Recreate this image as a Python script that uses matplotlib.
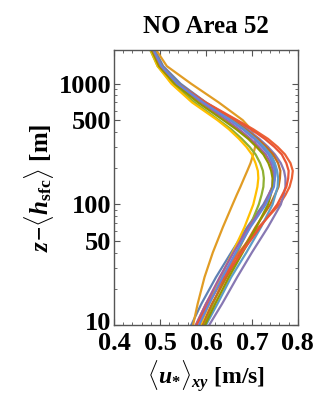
#!/usr/bin/env python3

import numpy as np
import matplotlib
matplotlib.use("Agg")
import matplotlib.pyplot as plt
import matplotlib.transforms as mtransforms
from matplotlib.ticker import FixedLocator, NullFormatter, MultipleLocator

# ==========================================================
# DATA
# ==========================================================

Z = [10, 15, 25, 40, 65, 100, 120, 140, 165, 190, 220, 260, 300, 350, 420,
     500, 700, 1000, 1400, 1900]

U_BLUE = [0.568, 0.590, 0.622, 0.655, 0.690, 0.725, 0.736, 0.745, 0.750, 0.752,
          0.749, 0.742, 0.729, 0.712, 0.688, 0.660, 0.600, 0.545, 0.507, 0.489]
U_ORANGE = [0.572, 0.582, 0.597, 0.615, 0.637, 0.658, 0.667, 0.675, 0.683, 0.690,
            0.697, 0.703, 0.707, 0.708, 0.698, 0.680, 0.628, 0.568, 0.515, 0.492]
U_GREEN = [0.595, 0.615, 0.642, 0.668, 0.695, 0.715, 0.721, 0.725, 0.726, 0.724,
           0.718, 0.708, 0.695, 0.678, 0.655, 0.628, 0.575, 0.527, 0.495, 0.479]
U_RED = [0.578, 0.600, 0.635, 0.672, 0.715, 0.760, 0.773, 0.782, 0.787, 0.789,
         0.784, 0.772, 0.756, 0.735, 0.703, 0.668, 0.600, 0.540, 0.504, 0.486]
U_PURPLE = [0.607, 0.635, 0.668, 0.700, 0.735, 0.763, 0.769, 0.773, 0.773, 0.770,
            0.763, 0.750, 0.735, 0.716, 0.690, 0.660, 0.598, 0.540, 0.503, 0.486]
U_DKORANGE = [0.592, 0.613, 0.645, 0.676, 0.708, 0.740, 0.750, 0.758, 0.761, 0.762,
              0.757, 0.746, 0.731, 0.712, 0.686, 0.657, 0.597, 0.540, 0.503, 0.486]
U_LTBLUE = [0.600, 0.625, 0.655, 0.688, 0.720, 0.745, 0.751, 0.756, 0.757, 0.755,
            0.750, 0.740, 0.726, 0.708, 0.683, 0.655, 0.596, 0.540, 0.503, 0.486]
U_YELLOW = [0.588, 0.607, 0.632, 0.658, 0.684, 0.703, 0.708, 0.712, 0.714, 0.713,
            0.708, 0.700, 0.688, 0.672, 0.650, 0.625, 0.570, 0.525, 0.495, 0.480]
U_MAGENTA = [0.578, 0.600, 0.630, 0.660, 0.693, 0.728, 0.737, 0.744, 0.746, 0.746,
             0.741, 0.730, 0.715, 0.697, 0.672, 0.645, 0.590, 0.535, 0.500, 0.484]
U_OLIVE = [0.598, 0.620, 0.650, 0.680, 0.710, 0.735, 0.741, 0.745, 0.745, 0.742,
           0.736, 0.725, 0.710, 0.692, 0.666, 0.638, 0.583, 0.532, 0.498, 0.482]
U_RED2 = [0.580, 0.605, 0.640, 0.678, 0.718, 0.755, 0.766, 0.775, 0.779, 0.780,
          0.775, 0.765, 0.749, 0.728, 0.698, 0.665, 0.598, 0.538, 0.502, 0.485]
U_BLUE2 = [0.585, 0.607, 0.636, 0.665, 0.697, 0.730, 0.740, 0.748, 0.750, 0.750,
           0.745, 0.736, 0.722, 0.705, 0.680, 0.652, 0.594, 0.538, 0.503, 0.486]

PROFILES = [U_BLUE, U_ORANGE, U_GREEN, U_RED, U_PURPLE, U_DKORANGE,
            U_LTBLUE, U_YELLOW, U_MAGENTA, U_OLIVE, U_RED2, U_BLUE2]

COLORS = ["#5E81B5", "#E19C24", "#8FB032", "#EB6235", "#8778B3", "#C56E1A",
          "#5D9EC7", "#FFBF00", "#A5609D", "#929600", "#E95536", "#6685D9"]

YTICKS = [10, 50, 100, 500, 1000]
XTICKS = [0.4, 0.5, 0.6, 0.7, 0.8]

# ==========================================================
# STYLE
# ==========================================================

plt.rcParams["font.family"] = ["Liberation Serif", "DejaVu Serif"]
plt.rcParams["font.weight"] = "bold"
plt.rcParams["mathtext.fontset"] = "custom"
plt.rcParams["mathtext.rm"] = "Liberation Serif:bold"
plt.rcParams["mathtext.it"] = "Liberation Serif:bold:italic"
plt.rcParams["mathtext.bf"] = "Liberation Serif:bold"

# ==========================================================
# PLOT
# ==========================================================

fig = plt.figure(figsize=(3.22, 3.98), dpi=100)
ax = fig.add_axes([0.354, 0.183, 0.571, 0.691])

for u, c in zip(PROFILES, COLORS):
    ax.plot(u, Z, color=c, lw=1.6)

ax.set_yscale("log")
ax.set_xlim(0.4, 0.8)
ax.set_ylim(10, 1900)

ax.yaxis.set_major_locator(FixedLocator(YTICKS))
ax.set_yticklabels([str(t) for t in YTICKS])
minor = [m * d for d in (10, 100, 1000) for m in range(2, 10)]
ax.yaxis.set_minor_locator(FixedLocator(minor))
ax.yaxis.set_minor_formatter(NullFormatter())

ax.set_xticks(XTICKS)
ax.set_xticklabels([f"{t:.1f}" for t in XTICKS])
ax.xaxis.set_minor_locator(MultipleLocator(0.02))

ax.tick_params(which="both", direction="in", top=True, right=True,
               colors="#555555", labelcolor="black", labelsize=19, pad=2)
ax.tick_params(axis="x", pad=5)
ax.tick_params(which="major", length=4, width=0.8)
ax.tick_params(which="minor", length=2, width=0.6)

# nudge the "10" label up a little so it clears "0.4"
lab10 = ax.get_yticklabels()[0]
lab10.set_transform(lab10.get_transform() +
                    mtransforms.ScaledTranslation(0, 3 / 72, fig.dpi_scale_trans))

for s in ax.spines.values():
    s.set_color("#555555")
    s.set_linewidth(1.0)

ax.set_title("NO Area 52", fontsize=18, fontweight="bold", pad=12)

ax.set_xlabel(r"$\langle u_{*}\rangle_{xy}$ [m/s]", fontsize=17,
              fontweight="bold", labelpad=2)
ax.set_ylabel(r"$z\!-\!\langle h_{\mathrm{sfc}}\rangle$ [m]", fontsize=18,
              fontweight="bold", labelpad=2)

fig.savefig("out.png", dpi=100)
